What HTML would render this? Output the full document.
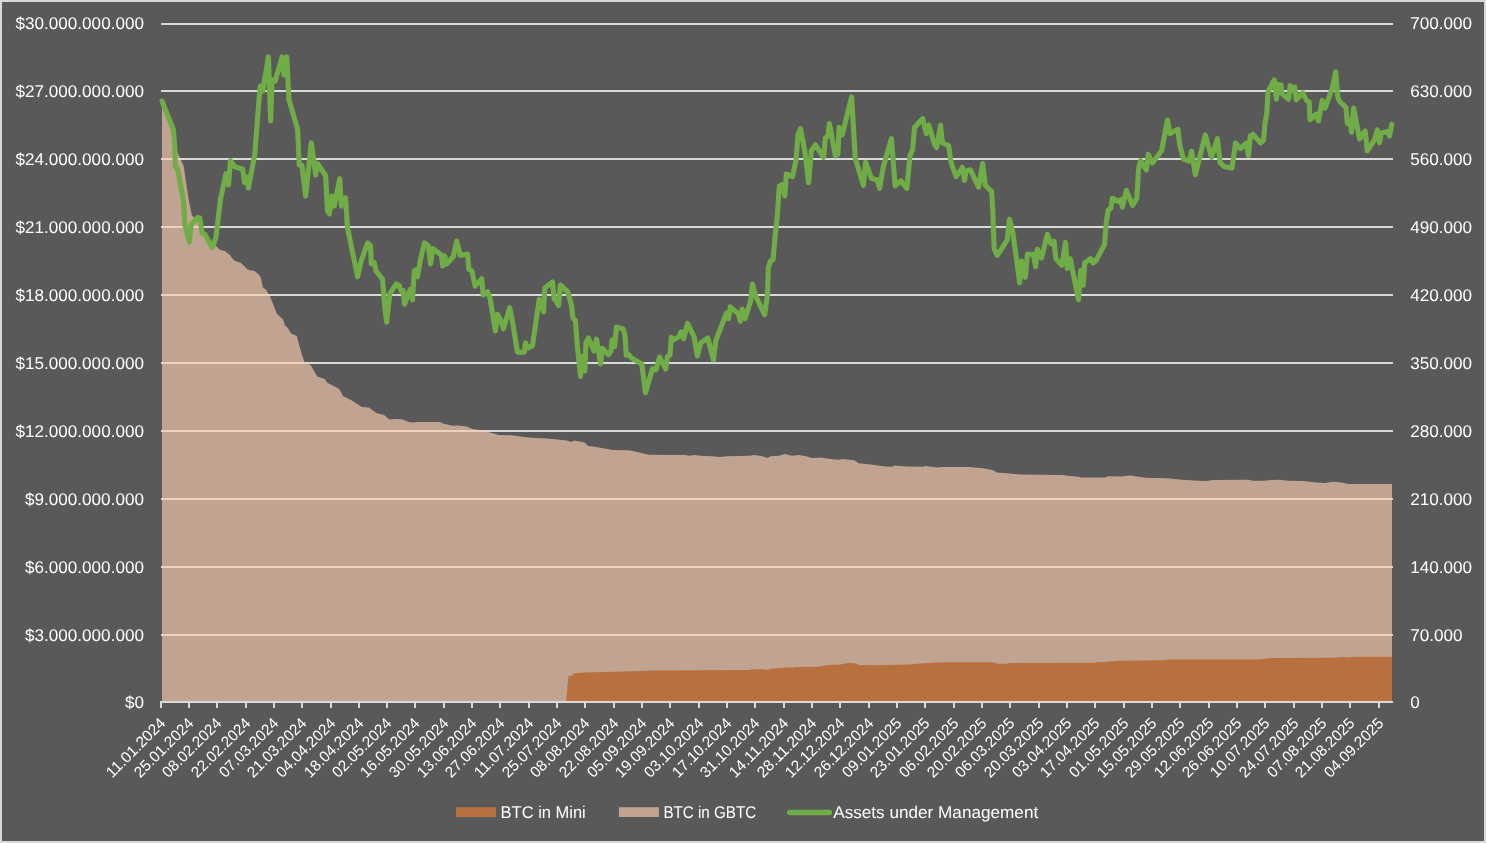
<!DOCTYPE html>
<html lang="en"><head><meta charset="utf-8"><title>BTC in GBTC / Mini and Assets under Management</title>
<style>html,body{margin:0;padding:0;background:#595959;overflow:hidden}svg{display:block}text{font-family:"Liberation Sans",sans-serif;fill:#FFFFFF;text-rendering:geometricPrecision}</style></head><body>
<svg width="1486" height="843" viewBox="0 0 1486 843">
<rect x="0" y="0" width="1486" height="843" fill="#D9D9D9"/>
<rect x="2" y="2" width="1482" height="839" fill="#595959"/>
<g fill="#D9D9D9">
<rect x="161" y="23" width="1232" height="2"/>
<rect x="161" y="90" width="1232" height="2"/>
<rect x="161" y="158" width="1232" height="2"/>
<rect x="161" y="226" width="1232" height="2"/>
<rect x="161" y="294" width="1232" height="2"/>
<rect x="161" y="362" width="1232" height="2"/>
<rect x="161" y="430" width="1232" height="2"/>
<rect x="161" y="498" width="1232" height="2"/>
<rect x="161" y="566" width="1232" height="2"/>
<rect x="161" y="634" width="1232" height="2"/>
</g>
<polygon points="162.0,101.5 173.4,131.0 177.4,152.3 183.7,166.0 188.3,197.5 191.8,214.9 194.9,218.7 198.0,222.0 204.0,233.0 212.3,243.5 216.0,246.1 219.8,249.8 224.8,251.1 229.7,254.8 234.1,260.4 241.0,262.9 247.8,269.7 254.7,271.0 259.0,274.7 260.9,277.8 262.8,287.2 266.2,290.0 270.0,296.2 276.8,313.7 283.0,319.3 284.9,325.5 287.4,327.4 291.1,333.6 296.8,336.1 301.1,352.3 304.8,362.9 310.5,364.7 317.3,376.6 324.8,379.1 327.3,382.8 332.3,385.3 339.5,389.2 343.0,396.0 352.8,400.9 361.7,407.1 368.9,407.5 376.4,413.0 384.0,415.1 389.4,419.6 396.5,418.9 401.9,419.2 408.1,421.7 413.5,422.8 416.1,422.1 440.2,422.1 442.9,423.5 452.7,425.8 458.0,425.5 467.0,426.4 472.3,428.9 483.0,430.6 490.1,432.4 499.1,435.1 511.5,435.3 520.5,436.5 531.2,437.8 543.6,438.3 557.9,439.6 566.8,440.4 571.3,441.9 574.3,440.4 584.6,442.4 588.2,446.0 595.0,446.8 612.8,450.0 628.9,450.3 639.6,452.6 648.5,454.8 685.9,455.0 688.6,455.7 694.9,455.0 700.2,455.8 712.7,456.2 719.8,457.1 727.0,456.2 750.1,455.8 753.7,455.0 762.6,456.2 767.1,458.0 770.6,456.2 778.7,455.7 784.9,454.1 792.0,455.8 798.3,455.0 806.3,456.2 811.7,458.0 820.6,457.5 830.4,458.9 838.4,459.8 842.0,458.9 854.5,460.3 858.6,463.2 871.0,464.4 885.3,466.4 892.4,466.7 894.2,465.5 906.7,466.4 922.8,466.7 925.4,466.0 937.0,467.6 941.5,466.9 969.1,466.9 983.4,468.2 993.2,470.3 996.8,472.6 1006.6,473.3 1020.8,474.6 1063.6,475.0 1067.2,475.7 1076.1,476.4 1081.5,477.6 1104.6,477.6 1108.2,476.2 1120.8,476.5 1130.3,475.5 1145.7,477.8 1166.8,478.2 1182.1,479.7 1197.5,480.7 1207.1,481.1 1212.8,480.1 1247.3,479.7 1253.1,480.7 1264.6,480.7 1270.4,479.9 1279.9,479.7 1287.6,480.7 1303.0,481.1 1316.4,482.6 1324.1,483.0 1333.6,481.8 1341.3,482.6 1349.0,483.9 1392.0,483.9 1392.0,702.0 162.0,702.0" fill="#F8CBAD" fill-opacity="0.65"/>
<polygon points="566.1,702.0 568.4,676.2 571.9,675.7 573.7,673.2 584.4,672.6 615.6,671.7 654.9,670.5 749.4,670.1 752.0,669.3 763.6,669.3 768.1,670.0 771.7,668.4 783.2,668.0 785.9,667.3 792.2,667.8 794.8,667.1 815.3,666.9 828.7,665.1 840.4,664.5 848.2,663.1 856.0,663.5 858.9,664.9 879.4,665.3 908.7,664.5 924.3,663.3 941.9,662.2 992.6,662.2 997.5,663.7 1006.3,663.7 1010.2,663.0 1094.1,662.8 1097.0,662.2 1105.0,662.0 1118.2,660.7 1164.6,660.3 1168.6,659.5 1257.5,659.5 1271.6,658.1 1336.2,657.7 1342.3,656.9 1349.3,657.5 1352.4,656.7 1392.0,656.7 1392.0,702.0" fill="#B9703F"/>
<g fill="#D9D9D9">
<rect x="160" y="701" width="1233" height="2"/>
<rect x="160" y="703" width="2" height="5"/>
<rect x="188" y="703" width="2" height="5"/>
<rect x="216" y="703" width="2" height="5"/>
<rect x="245" y="703" width="2" height="5"/>
<rect x="273" y="703" width="2" height="5"/>
<rect x="301" y="703" width="2" height="5"/>
<rect x="330" y="703" width="2" height="5"/>
<rect x="358" y="703" width="2" height="5"/>
<rect x="386" y="703" width="2" height="5"/>
<rect x="414" y="703" width="2" height="5"/>
<rect x="443" y="703" width="2" height="5"/>
<rect x="471" y="703" width="2" height="5"/>
<rect x="499" y="703" width="2" height="5"/>
<rect x="528" y="703" width="2" height="5"/>
<rect x="556" y="703" width="2" height="5"/>
<rect x="584" y="703" width="2" height="5"/>
<rect x="613" y="703" width="2" height="5"/>
<rect x="641" y="703" width="2" height="5"/>
<rect x="669" y="703" width="2" height="5"/>
<rect x="698" y="703" width="2" height="5"/>
<rect x="726" y="703" width="2" height="5"/>
<rect x="754" y="703" width="2" height="5"/>
<rect x="783" y="703" width="2" height="5"/>
<rect x="811" y="703" width="2" height="5"/>
<rect x="839" y="703" width="2" height="5"/>
<rect x="868" y="703" width="2" height="5"/>
<rect x="896" y="703" width="2" height="5"/>
<rect x="924" y="703" width="2" height="5"/>
<rect x="953" y="703" width="2" height="5"/>
<rect x="981" y="703" width="2" height="5"/>
<rect x="1009" y="703" width="2" height="5"/>
<rect x="1038" y="703" width="2" height="5"/>
<rect x="1066" y="703" width="2" height="5"/>
<rect x="1094" y="703" width="2" height="5"/>
<rect x="1123" y="703" width="2" height="5"/>
<rect x="1151" y="703" width="2" height="5"/>
<rect x="1179" y="703" width="2" height="5"/>
<rect x="1208" y="703" width="2" height="5"/>
<rect x="1236" y="703" width="2" height="5"/>
<rect x="1264" y="703" width="2" height="5"/>
<rect x="1293" y="703" width="2" height="5"/>
<rect x="1321" y="703" width="2" height="5"/>
<rect x="1349" y="703" width="2" height="5"/>
<rect x="1378" y="703" width="2" height="5"/>
</g>
<polyline points="162.0,101.0 173.4,129.7 174.9,150.0 175.2,165.6 178.0,170.6 183.4,199.8 184.9,224.7 189.3,242.2 191.1,224.7 198.0,217.3 199.8,217.9 202.1,233.5 204.8,234.1 212.3,247.8 216.0,237.2 220.4,199.8 226.0,173.7 228.5,184.9 230.4,160.6 234.7,166.8 242.8,169.3 244.4,182.4 246.6,176.8 248.4,188.0 254.7,155.0 259.0,99.8 260.3,86.1 262.8,91.0 268.4,56.9 270.6,121.0 272.1,79.9 275.2,81.0 282.1,56.9 283.9,74.9 286.8,56.9 288.9,99.8 297.6,129.1 299.3,165.0 302.0,165.6 305.7,196.1 311.3,142.8 315.7,174.9 317.6,163.7 325.6,175.5 327.5,211.0 329.4,213.9 331.9,196.1 334.3,206.1 339.7,178.7 341.4,206.1 345.6,198.0 347.4,227.3 357.6,276.8 361.1,261.2 367.6,242.9 370.5,245.4 371.3,263.8 374.2,262.6 376.1,271.2 382.6,279.3 384.5,304.8 386.7,322.3 389.8,293.6 396.3,283.9 399.1,285.5 401.2,291.1 403.2,290.5 404.5,304.2 410.3,289.3 412.5,299.8 414.3,270.8 416.6,269.5 417.4,277.0 420.0,262.0 424.4,242.9 428.4,246.0 430.6,264.0 432.8,248.5 441.5,255.3 442.7,265.9 444.8,255.9 446.5,264.0 453.3,256.6 456.7,241.0 460.2,255.3 467.6,254.1 468.9,269.2 472.0,271.2 475.1,286.1 481.7,278.7 483.2,294.9 487.6,291.8 490.1,298.6 495.4,331.0 497.5,314.2 500.6,319.8 503.5,328.8 509.6,307.7 511.8,317.4 517.4,352.2 524.3,352.2 525.5,342.9 528.0,347.9 532.4,346.0 539.2,299.3 541.1,302.4 543.6,311.8 544.8,288.1 552.6,281.9 554.2,299.3 556.0,300.5 558.5,305.5 560.4,285.0 567.9,291.8 571.6,306.1 572.9,318.0 575.4,320.5 577.2,344.8 580.6,376.5 582.2,356.6 584.9,370.9 585.9,342.9 588.4,337.9 594.0,351.0 596.5,339.2 600.6,364.0 602.3,348.2 608.4,354.7 611.0,351.0 612.1,339.8 614.7,346.6 616.4,327.0 623.2,329.0 625.0,335.7 626.3,355.4 628.9,354.7 631.2,357.7 641.8,364.1 645.5,392.8 652.4,368.8 656.0,369.8 659.6,357.2 665.7,369.1 667.4,356.6 670.0,355.0 671.3,337.4 673.6,339.9 679.2,336.5 681.2,331.8 683.7,338.6 687.5,323.4 694.1,336.8 697.4,356.1 700.7,343.0 707.8,338.0 713.4,359.8 715.9,340.5 726.4,313.1 728.6,318.7 730.2,306.9 738.3,313.7 740.5,321.2 742.2,309.2 745.1,318.6 750.6,301.0 752.5,284.1 755.6,296.0 764.7,314.8 767.4,294.7 768.4,267.3 770.5,261.1 773.0,259.8 774.9,238.7 777.4,215.0 778.7,195.0 779.4,186.0 782.4,184.4 784.8,196.0 786.3,174.1 792.6,176.6 796.1,159.8 798.0,134.8 800.5,128.6 804.8,151.0 808.6,182.8 811.3,151.0 815.4,144.8 823.5,157.3 825.4,138.0 827.9,136.1 829.5,123.6 835.4,156.0 837.9,154.2 839.1,127.4 842.2,134.8 851.6,96.9 855.3,158.5 863.4,185.3 865.6,162.3 871.5,178.5 877.1,179.7 879.6,188.4 883.3,167.2 891.4,138.6 895.2,185.9 900.8,180.9 906.8,188.4 910.1,154.8 912.6,149.8 914.5,127.4 922.6,118.7 926.3,133.6 928.8,124.9 934.4,144.2 936.6,147.6 940.6,125.3 942.5,143.0 948.7,145.5 950.6,159.8 952.4,166.7 956.2,176.6 962.4,167.3 964.5,180.4 966.1,171.0 970.5,169.8 978.6,187.2 982.6,163.6 985.4,185.4 991.7,191.6 992.6,207.0 994.2,248.6 997.3,255.4 1007.2,239.9 1009.5,219.3 1012.8,232.4 1019.7,282.8 1021.6,261.0 1025.3,277.2 1027.4,254.2 1033.4,254.2 1035.6,266.7 1037.4,249.2 1041.5,257.9 1047.4,234.3 1050.8,243.6 1054.0,241.1 1055.8,258.6 1061.8,265.4 1065.5,242.4 1067.3,268.5 1070.2,258.6 1078.5,299.7 1080.7,270.4 1083.2,285.3 1084.7,262.9 1090.7,258.6 1093.2,262.9 1095.7,261.0 1104.4,244.8 1106.3,222.4 1108.2,210.1 1110.9,208.2 1112.3,198.4 1118.7,201.6 1120.6,199.7 1122.4,207.2 1126.4,190.4 1132.6,205.3 1136.8,198.5 1138.6,168.6 1140.5,160.5 1146.3,169.8 1148.3,154.2 1152.3,163.0 1161.7,150.5 1167.5,120.0 1169.8,133.7 1177.9,129.3 1179.7,144.9 1183.5,159.2 1189.1,161.1 1191.6,151.1 1195.3,174.8 1205.3,134.9 1211.5,157.4 1217.4,138.7 1220.2,163.0 1224.6,166.7 1232.1,167.9 1235.5,143.0 1240.2,148.6 1246.3,143.2 1248.5,155.7 1250.3,136.1 1252.9,134.2 1260.6,142.9 1263.6,140.1 1264.9,123.6 1266.8,113.6 1268.0,91.8 1274.3,79.9 1276.4,99.2 1278.0,84.3 1281.1,84.9 1281.8,93.6 1288.6,99.2 1290.1,85.5 1293.0,91.1 1294.8,86.8 1296.3,99.9 1302.6,93.0 1306.7,100.5 1309.2,101.7 1310.0,119.8 1316.3,114.2 1318.5,121.0 1322.2,100.5 1325.0,108.0 1332.2,88.7 1335.7,71.8 1337.8,97.4 1339.9,101.7 1345.9,107.3 1347.4,123.5 1350.3,121.0 1351.5,132.3 1353.6,108.0 1359.6,139.1 1365.2,131.0 1367.3,150.9 1374.6,139.7 1377.3,129.8 1379.5,142.8 1381.4,132.9 1387.6,131.6 1389.5,136.0 1391.8,124.2" fill="none" stroke="#70AD47" stroke-width="5.1" stroke-linejoin="round" stroke-linecap="round"/>
<g class="t" opacity="0.995">
<text x="15.6" y="28.6" font-size="17" textLength="128.3" lengthAdjust="spacingAndGlyphs">$30.000.000.000</text>
<text x="1410.3" y="28.6" font-size="17" textLength="61.8" lengthAdjust="spacingAndGlyphs">700.000</text>
<text x="15.6" y="96.6" font-size="17" textLength="128.3" lengthAdjust="spacingAndGlyphs">$27.000.000.000</text>
<text x="1410.3" y="96.6" font-size="17" textLength="61.8" lengthAdjust="spacingAndGlyphs">630.000</text>
<text x="15.6" y="164.6" font-size="17" textLength="128.3" lengthAdjust="spacingAndGlyphs">$24.000.000.000</text>
<text x="1410.3" y="164.6" font-size="17" textLength="61.8" lengthAdjust="spacingAndGlyphs">560.000</text>
<text x="15.6" y="232.6" font-size="17" textLength="128.3" lengthAdjust="spacingAndGlyphs">$21.000.000.000</text>
<text x="1410.3" y="232.6" font-size="17" textLength="61.8" lengthAdjust="spacingAndGlyphs">490.000</text>
<text x="15.6" y="300.6" font-size="17" textLength="128.3" lengthAdjust="spacingAndGlyphs">$18.000.000.000</text>
<text x="1410.3" y="300.6" font-size="17" textLength="61.8" lengthAdjust="spacingAndGlyphs">420.000</text>
<text x="15.6" y="368.6" font-size="17" textLength="128.3" lengthAdjust="spacingAndGlyphs">$15.000.000.000</text>
<text x="1410.3" y="368.6" font-size="17" textLength="61.8" lengthAdjust="spacingAndGlyphs">350.000</text>
<text x="15.6" y="436.6" font-size="17" textLength="128.3" lengthAdjust="spacingAndGlyphs">$12.000.000.000</text>
<text x="1410.3" y="436.6" font-size="17" textLength="61.8" lengthAdjust="spacingAndGlyphs">280.000</text>
<text x="25.1" y="504.6" font-size="17" textLength="118.8" lengthAdjust="spacingAndGlyphs">$9.000.000.000</text>
<text x="1410.3" y="504.6" font-size="17" textLength="61.8" lengthAdjust="spacingAndGlyphs">210.000</text>
<text x="25.1" y="572.6" font-size="17" textLength="118.8" lengthAdjust="spacingAndGlyphs">$6.000.000.000</text>
<text x="1410.3" y="572.6" font-size="17" textLength="61.8" lengthAdjust="spacingAndGlyphs">140.000</text>
<text x="25.1" y="640.6" font-size="17" textLength="118.8" lengthAdjust="spacingAndGlyphs">$3.000.000.000</text>
<text x="1410.3" y="640.6" font-size="17" textLength="52.3" lengthAdjust="spacingAndGlyphs">70.000</text>
<text x="124.9" y="707.6" font-size="17" textLength="19.0" lengthAdjust="spacingAndGlyphs">$0</text>
<text x="1410.3" y="707.6" font-size="17" textLength="9.5" lengthAdjust="spacingAndGlyphs">0</text>
<text transform="translate(166.5,724.1) rotate(-45)" x="-76.8" y="0" font-size="15.45" textLength="76.8" lengthAdjust="spacingAndGlyphs">11.01.2024</text>
<text transform="translate(194.5,724.1) rotate(-45)" x="-76.8" y="0" font-size="15.45" textLength="76.8" lengthAdjust="spacingAndGlyphs">25.01.2024</text>
<text transform="translate(222.5,724.1) rotate(-45)" x="-76.8" y="0" font-size="15.45" textLength="76.8" lengthAdjust="spacingAndGlyphs">08.02.2024</text>
<text transform="translate(251.5,724.1) rotate(-45)" x="-76.8" y="0" font-size="15.45" textLength="76.8" lengthAdjust="spacingAndGlyphs">22.02.2024</text>
<text transform="translate(279.5,724.1) rotate(-45)" x="-76.8" y="0" font-size="15.45" textLength="76.8" lengthAdjust="spacingAndGlyphs">07.03.2024</text>
<text transform="translate(307.5,724.1) rotate(-45)" x="-76.8" y="0" font-size="15.45" textLength="76.8" lengthAdjust="spacingAndGlyphs">21.03.2024</text>
<text transform="translate(336.5,724.1) rotate(-45)" x="-76.8" y="0" font-size="15.45" textLength="76.8" lengthAdjust="spacingAndGlyphs">04.04.2024</text>
<text transform="translate(364.5,724.1) rotate(-45)" x="-76.8" y="0" font-size="15.45" textLength="76.8" lengthAdjust="spacingAndGlyphs">18.04.2024</text>
<text transform="translate(392.5,724.1) rotate(-45)" x="-76.8" y="0" font-size="15.45" textLength="76.8" lengthAdjust="spacingAndGlyphs">02.05.2024</text>
<text transform="translate(420.5,724.1) rotate(-45)" x="-76.8" y="0" font-size="15.45" textLength="76.8" lengthAdjust="spacingAndGlyphs">16.05.2024</text>
<text transform="translate(449.5,724.1) rotate(-45)" x="-76.8" y="0" font-size="15.45" textLength="76.8" lengthAdjust="spacingAndGlyphs">30.05.2024</text>
<text transform="translate(477.5,724.1) rotate(-45)" x="-76.8" y="0" font-size="15.45" textLength="76.8" lengthAdjust="spacingAndGlyphs">13.06.2024</text>
<text transform="translate(505.5,724.1) rotate(-45)" x="-76.8" y="0" font-size="15.45" textLength="76.8" lengthAdjust="spacingAndGlyphs">27.06.2024</text>
<text transform="translate(534.5,724.1) rotate(-45)" x="-76.8" y="0" font-size="15.45" textLength="76.8" lengthAdjust="spacingAndGlyphs">11.07.2024</text>
<text transform="translate(562.5,724.1) rotate(-45)" x="-76.8" y="0" font-size="15.45" textLength="76.8" lengthAdjust="spacingAndGlyphs">25.07.2024</text>
<text transform="translate(590.5,724.1) rotate(-45)" x="-76.8" y="0" font-size="15.45" textLength="76.8" lengthAdjust="spacingAndGlyphs">08.08.2024</text>
<text transform="translate(619.5,724.1) rotate(-45)" x="-76.8" y="0" font-size="15.45" textLength="76.8" lengthAdjust="spacingAndGlyphs">22.08.2024</text>
<text transform="translate(647.5,724.1) rotate(-45)" x="-76.8" y="0" font-size="15.45" textLength="76.8" lengthAdjust="spacingAndGlyphs">05.09.2024</text>
<text transform="translate(675.5,724.1) rotate(-45)" x="-76.8" y="0" font-size="15.45" textLength="76.8" lengthAdjust="spacingAndGlyphs">19.09.2024</text>
<text transform="translate(704.5,724.1) rotate(-45)" x="-76.8" y="0" font-size="15.45" textLength="76.8" lengthAdjust="spacingAndGlyphs">03.10.2024</text>
<text transform="translate(732.5,724.1) rotate(-45)" x="-76.8" y="0" font-size="15.45" textLength="76.8" lengthAdjust="spacingAndGlyphs">17.10.2024</text>
<text transform="translate(760.5,724.1) rotate(-45)" x="-76.8" y="0" font-size="15.45" textLength="76.8" lengthAdjust="spacingAndGlyphs">31.10.2024</text>
<text transform="translate(789.5,724.1) rotate(-45)" x="-76.8" y="0" font-size="15.45" textLength="76.8" lengthAdjust="spacingAndGlyphs">14.11.2024</text>
<text transform="translate(817.5,724.1) rotate(-45)" x="-76.8" y="0" font-size="15.45" textLength="76.8" lengthAdjust="spacingAndGlyphs">28.11.2024</text>
<text transform="translate(845.5,724.1) rotate(-45)" x="-76.8" y="0" font-size="15.45" textLength="76.8" lengthAdjust="spacingAndGlyphs">12.12.2024</text>
<text transform="translate(874.5,724.1) rotate(-45)" x="-76.8" y="0" font-size="15.45" textLength="76.8" lengthAdjust="spacingAndGlyphs">26.12.2024</text>
<text transform="translate(902.5,724.1) rotate(-45)" x="-76.8" y="0" font-size="15.45" textLength="76.8" lengthAdjust="spacingAndGlyphs">09.01.2025</text>
<text transform="translate(930.5,724.1) rotate(-45)" x="-76.8" y="0" font-size="15.45" textLength="76.8" lengthAdjust="spacingAndGlyphs">23.01.2025</text>
<text transform="translate(959.5,724.1) rotate(-45)" x="-76.8" y="0" font-size="15.45" textLength="76.8" lengthAdjust="spacingAndGlyphs">06.02.2025</text>
<text transform="translate(987.5,724.1) rotate(-45)" x="-76.8" y="0" font-size="15.45" textLength="76.8" lengthAdjust="spacingAndGlyphs">20.02.2025</text>
<text transform="translate(1015.5,724.1) rotate(-45)" x="-76.8" y="0" font-size="15.45" textLength="76.8" lengthAdjust="spacingAndGlyphs">06.03.2025</text>
<text transform="translate(1044.5,724.1) rotate(-45)" x="-76.8" y="0" font-size="15.45" textLength="76.8" lengthAdjust="spacingAndGlyphs">20.03.2025</text>
<text transform="translate(1072.5,724.1) rotate(-45)" x="-76.8" y="0" font-size="15.45" textLength="76.8" lengthAdjust="spacingAndGlyphs">03.04.2025</text>
<text transform="translate(1100.5,724.1) rotate(-45)" x="-76.8" y="0" font-size="15.45" textLength="76.8" lengthAdjust="spacingAndGlyphs">17.04.2025</text>
<text transform="translate(1129.5,724.1) rotate(-45)" x="-76.8" y="0" font-size="15.45" textLength="76.8" lengthAdjust="spacingAndGlyphs">01.05.2025</text>
<text transform="translate(1157.5,724.1) rotate(-45)" x="-76.8" y="0" font-size="15.45" textLength="76.8" lengthAdjust="spacingAndGlyphs">15.05.2025</text>
<text transform="translate(1185.5,724.1) rotate(-45)" x="-76.8" y="0" font-size="15.45" textLength="76.8" lengthAdjust="spacingAndGlyphs">29.05.2025</text>
<text transform="translate(1214.5,724.1) rotate(-45)" x="-76.8" y="0" font-size="15.45" textLength="76.8" lengthAdjust="spacingAndGlyphs">12.06.2025</text>
<text transform="translate(1242.5,724.1) rotate(-45)" x="-76.8" y="0" font-size="15.45" textLength="76.8" lengthAdjust="spacingAndGlyphs">26.06.2025</text>
<text transform="translate(1270.5,724.1) rotate(-45)" x="-76.8" y="0" font-size="15.45" textLength="76.8" lengthAdjust="spacingAndGlyphs">10.07.2025</text>
<text transform="translate(1299.5,724.1) rotate(-45)" x="-76.8" y="0" font-size="15.45" textLength="76.8" lengthAdjust="spacingAndGlyphs">24.07.2025</text>
<text transform="translate(1327.5,724.1) rotate(-45)" x="-76.8" y="0" font-size="15.45" textLength="76.8" lengthAdjust="spacingAndGlyphs">07.08.2025</text>
<text transform="translate(1355.5,724.1) rotate(-45)" x="-76.8" y="0" font-size="15.45" textLength="76.8" lengthAdjust="spacingAndGlyphs">21.08.2025</text>
<text transform="translate(1384.5,724.1) rotate(-45)" x="-76.8" y="0" font-size="15.45" textLength="76.8" lengthAdjust="spacingAndGlyphs">04.09.2025</text>
<rect x="456" y="807.2" width="40" height="9.8" fill="#B9703F"/>
<rect x="619" y="807.2" width="40" height="9.8" fill="#C0A390"/>
<line x1="789.6" y1="812.5" x2="829.5" y2="812.5" stroke="#70AD47" stroke-width="5.3" stroke-linecap="round"/>
<text x="500.6" y="818.2" font-size="17" textLength="85.2" lengthAdjust="spacingAndGlyphs">BTC in Mini</text>
<text x="663.4" y="818.2" font-size="17" textLength="92.8" lengthAdjust="spacingAndGlyphs">BTC in GBTC</text>
<text x="833.2" y="818.2" font-size="17" textLength="205" lengthAdjust="spacingAndGlyphs">Assets under Management</text>
</g>
</svg></body></html>
